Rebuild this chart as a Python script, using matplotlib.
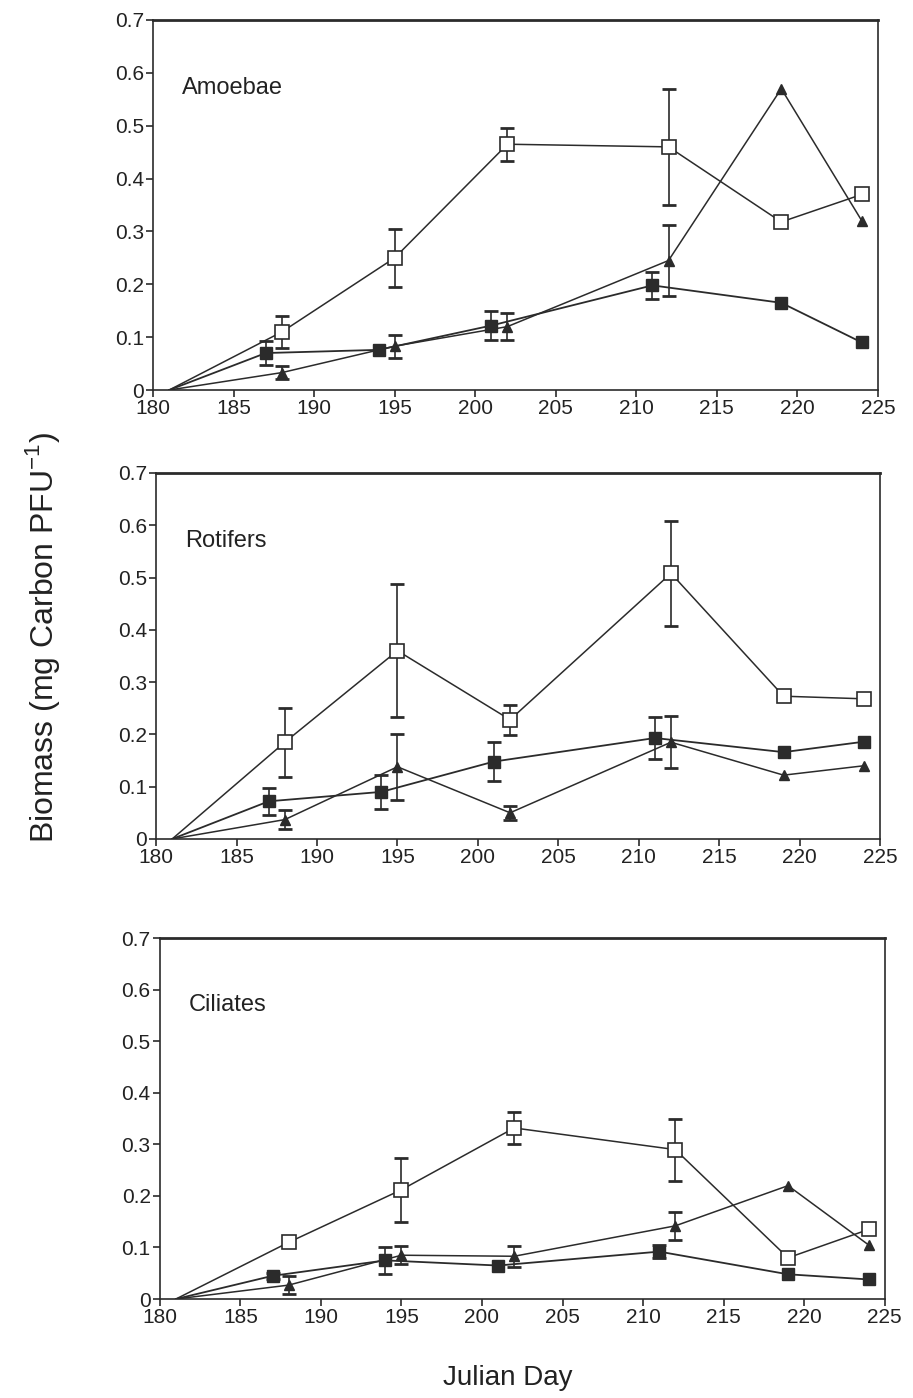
import matplotlib
matplotlib.use('Agg')
import matplotlib.pyplot as plt

plt.rcParams['font.family'] = ['Liberation Sans', 'DejaVu Sans']

# ─── Data ─────────────────────────────────────────────────────────────────────
panels = ['Amoebae', 'Rotifers', 'Ciliates']

# open squares
open_x = [181, 188, 195, 202, 212, 219, 224]
open_y = [
    [0, 0.110, 0.250, 0.465, 0.460, 0.318, 0.370],
    [0, 0.185, 0.360, 0.228, 0.508, 0.273, 0.268],
    [0, 0.110, 0.212, 0.332, 0.290, 0.080, 0.135],
]
open_err = [
    [0, 0.030, 0.055, 0.031, 0.110, 0, 0],
    [0, 0.066, 0.127, 0.029, 0.101, 0, 0],
    [0, 0.000, 0.062, 0.031, 0.060, 0, 0],
]

# filled squares
fill_x = [181, 187, 194, 201, 211, 219, 224]
fill_y = [
    [0, 0.070, 0.076, 0.122, 0.198, 0.165, 0.090],
    [0, 0.072, 0.090, 0.148, 0.193, 0.166, 0.186],
    [0, 0.045, 0.075, 0.065, 0.092, 0.048, 0.038],
]
fill_err = [
    [0, 0.022, 0.000, 0.028, 0.025, 0, 0],
    [0, 0.026, 0.032, 0.037, 0.041, 0, 0],
    [0, 0.006, 0.026, 0.000, 0.012, 0, 0],
]

# triangles
tri_x = [181, 188, 195, 202, 212, 219, 224]
tri_y = [
    [0, 0.033, 0.083, 0.120, 0.245, 0.570, 0.320],
    [0, 0.037, 0.138, 0.050, 0.185, 0.122, 0.140],
    [0, 0.027, 0.085, 0.083, 0.142, 0.220, 0.105],
]
tri_err = [
    [0, 0.012, 0.022, 0.026, 0.067, 0, 0],
    [0, 0.018, 0.063, 0.013, 0.050, 0, 0],
    [0, 0.018, 0.017, 0.020, 0.027, 0, 0],
]

INK = '#2b2b2b'
TXT = '#222222'

fig = plt.figure(figsize=(9.13, 13.98), dpi=100)
fig.patch.set_facecolor('white')

rects = [
    [0.1676, 0.7210, 0.7940, 0.2647],
    [0.1710, 0.3999, 0.7930, 0.2618],
    [0.1750, 0.0708, 0.7940, 0.2580],
]


def ebars(ax, xs, ys, es):
    """Error bars only where an error was drawn."""
    sel = [k for k, e in enumerate(es) if e > 0]
    ax.errorbar([xs[k] for k in sel], [ys[k] for k in sel],
                yerr=[es[k] for k in sel], fmt='none', ecolor=INK,
                elinewidth=1.2, capsize=5, capthick=2.0, zorder=2)


for i, name in enumerate(panels):
    ax = fig.add_axes(rects[i])

    ebars(ax, fill_x, fill_y[i], fill_err[i])
    ax.plot(fill_x, fill_y[i], color=INK, lw=1.3, zorder=3)
    ax.plot(fill_x[1:], fill_y[i][1:], 's', ms=8, mfc=INK, mec=INK, zorder=4)

    ebars(ax, tri_x, tri_y[i], tri_err[i])
    ax.plot(tri_x, tri_y[i], color=INK, lw=1.1, zorder=3)
    ax.plot(tri_x[1:], tri_y[i][1:], '^', ms=7, mfc=INK, mec=INK, zorder=4)

    ebars(ax, open_x, open_y[i], open_err[i])
    ax.plot(open_x, open_y[i], color=INK, lw=1.1, zorder=3)
    ax.plot(open_x[1:], open_y[i][1:], 's', ms=10, mfc='white', mec=INK,
            mew=1.2, zorder=5)

    ax.set_xlim(180, 225)
    ax.set_ylim(0, 0.7)
    ax.set_xticks(range(180, 226, 5))
    ax.set_yticks([0, 0.1, 0.2, 0.3, 0.4, 0.5, 0.6, 0.7])
    ax.set_yticklabels(['0', '0.1', '0.2', '0.3', '0.4', '0.5', '0.6', '0.7'])
    ax.tick_params(direction='out', length=5, width=1.2, colors=INK,
                   labelsize=15, labelcolor=TXT, pad=1.5)
    for side in ('left', 'bottom', 'right'):
        ax.spines[side].set_color(INK)
        ax.spines[side].set_linewidth(1.2)
    ax.spines['top'].set_color(INK)
    ax.spines['top'].set_linewidth(2.0)

    ax.text(0.04, 0.815, name, transform=ax.transAxes, fontsize=17,
            color=TXT, ha='left', va='center')

fig.text(0.047, 0.544, 'Biomass (mg Carbon PFU$^{\\mathregular{-1}}$)',
         rotation=90, ha='center', va='center', fontsize=23, color=TXT)
fig.text(0.556, 0.0143, 'Julian Day', ha='center', va='center',
         fontsize=20, color=TXT)

fig.savefig('out.png', dpi=100, facecolor='white')
